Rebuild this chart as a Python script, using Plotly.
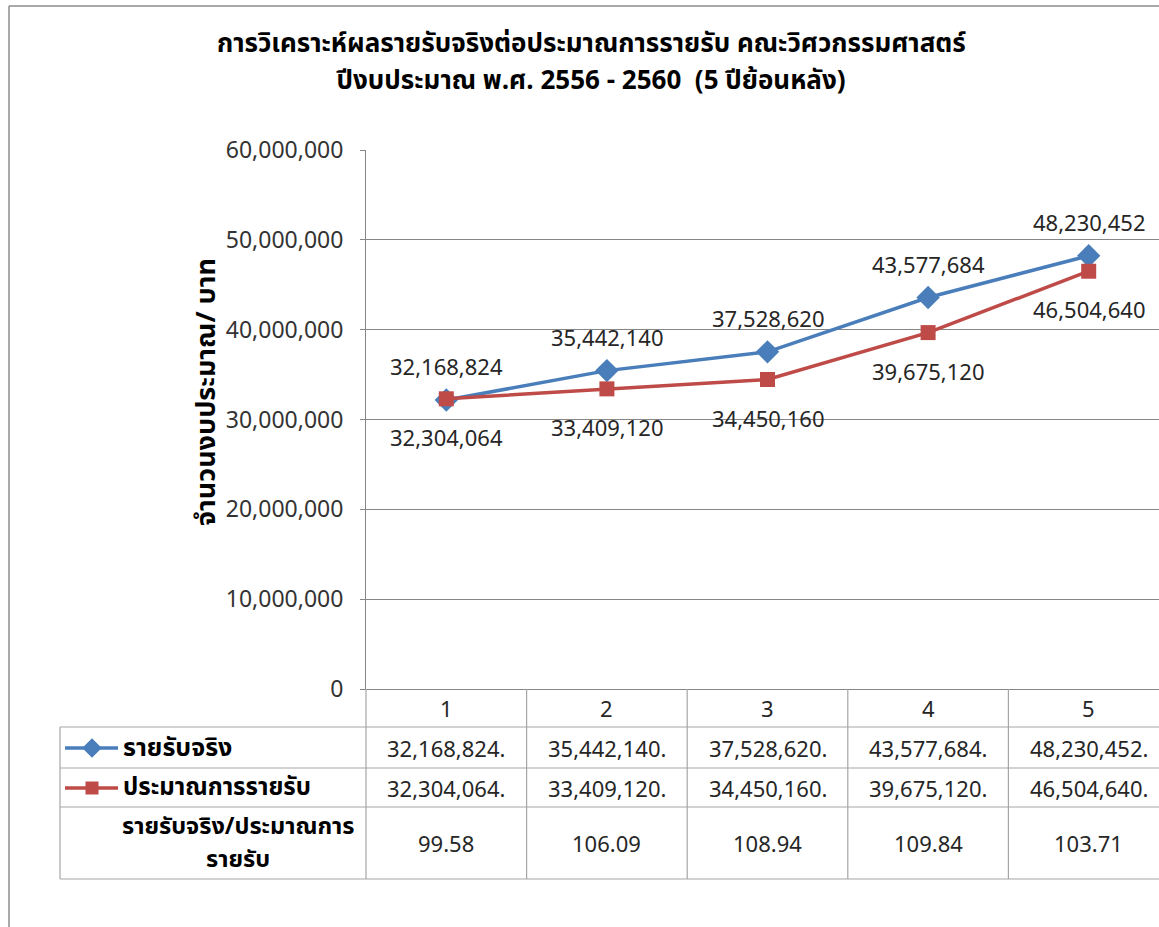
import plotly.graph_objects as go

W, H = 1159, 927

categories = [1, 2, 3, 4, 5]
actual = [32168824, 35442140, 37528620, 43577684, 48230452]
budget = [32304064, 33409120, 34450160, 39675120, 46504640]
ratio = [99.58, 106.09, 108.94, 109.84, 103.71]
series_names = ["รายรับจริง", "ประมาณการรายรับ"]
ratio_label = ["รายรับจริง/ประมาณการ", "รายรับ"]
title_lines = ["การวิเคราะห์ผลรายรับจริงต่อประมาณการรายรับ คณะวิศวกรรมศาสตร์",
               "ปีงบประมาณ พ.ศ. 2556 - 2560  (5 ปีย้อนหลัง)"]
ytitle = "จำนวนงบประมาณ/ บาท"
yticks = [0, 10000000, 20000000, 30000000, 40000000, 50000000, 60000000]

BLUE = "#4A7EBB"
RED = "#BE4B48"
GRID = "#868686"
TBL = "#A6A6A6"
THAI = "Tahoma, 'Noto Sans Thai', 'Noto Sans', sans-serif"
NUM = "'Noto Sans', 'Open Sans', sans-serif"
TXT = "#262626"

def px(x):
    return x / W

def py(y):
    return 1 - y / H

# plot area in pixels
PL, PT, PB = 366, 150, 689
x_per = 160.6
x_right = 0.5 + (W - PL) / x_per

fig = go.Figure()
fig.add_trace(go.Scatter(x=categories, y=actual, mode="lines+markers", name=series_names[0],
                         line=dict(color=BLUE, width=3.5),
                         marker=dict(symbol="diamond", size=18, color=BLUE),
                         xaxis="x", yaxis="y", showlegend=False))
fig.add_trace(go.Scatter(x=categories, y=budget, mode="lines+markers", name=series_names[1],
                         line=dict(color=RED, width=3.5),
                         marker=dict(symbol="square", size=15, color=RED),
                         xaxis="x", yaxis="y", showlegend=False))

# legend keys inside the data table (overlay pixel axis)
row_y = [748, 788]
for c, sym, sz, yy in [(BLUE, "diamond", 15, row_y[0]), (RED, "square", 13, row_y[1])]:
    fig.add_trace(go.Scatter(x=[65, 92, 118], y=[yy, yy, yy], mode="lines", line=dict(color=c, width=3.5),
                             xaxis="x2", yaxis="y2", showlegend=False, hoverinfo="skip"))
    fig.add_trace(go.Scatter(x=[92], y=[yy], mode="markers", marker=dict(symbol=sym, size=sz, color=c),
                             xaxis="x2", yaxis="y2", showlegend=False, hoverinfo="skip"))

ann = []
def add(**kw):
    kw.setdefault("showarrow", False)
    kw.setdefault("xanchor", "center")
    kw.setdefault("yanchor", "middle")
    ann.append(kw)

# data labels
for x, v in zip(categories, actual):
    add(x=x, y=v, xref="x", yref="y", text=f"{v:,}", yshift=34, font=dict(family=NUM, size=22, color=TXT))
for x, v in zip(categories, budget):
    add(x=x, y=v, xref="x", yref="y", text=f"{v:,}", yshift=-38, font=dict(family=NUM, size=22, color=TXT))

# title
for t, yy in zip(title_lines, [44, 81]):
    add(x=px(591), y=py(yy), xref="paper", yref="paper", text="<b>" + t + "</b>",
        font=dict(family=THAI, size=26, color="#000"))
# y title
add(x=px(207), y=py(392), xref="paper", yref="paper", text="<b>" + ytitle + "</b>", textangle=-90,
    font=dict(family=THAI, size=27, color="#000"))

# table contents
for x in categories:
    add(x=x, y=py(708), xref="x", yref="paper", text=str(x), font=dict(family=NUM, size=22, color=TXT))
for x, a, b, r in zip(categories, actual, budget, ratio):
    add(x=x, y=py(748), xref="x", yref="paper", text=f"{a:,}.", font=dict(family=NUM, size=22, color=TXT))
    add(x=x, y=py(788), xref="x", yref="paper", text=f"{b:,}.", font=dict(family=NUM, size=22, color=TXT))
    add(x=x, y=py(843), xref="x", yref="paper", text=f"{r:.2f}", font=dict(family=NUM, size=22, color=TXT))
add(x=px(121), y=py(748), xref="paper", yref="paper", text="<b>" + series_names[0] + "</b>",
    xanchor="left", font=dict(family=THAI, size=25, color="#000"))
add(x=px(121), y=py(788), xref="paper", yref="paper", text="<b>" + series_names[1] + "</b>",
    xanchor="left", font=dict(family=THAI, size=24, color="#000"))
for t, yy in zip(ratio_label, [827, 860]):
    add(x=px(238), y=py(yy), xref="paper", yref="paper", text="<b>" + t + "</b>",
        font=dict(family=THAI, size=23.5, color="#000"))

shapes = []
# outer chart border
shapes.append(dict(type="line", xref="paper", yref="paper", x0=px(9), x1=px(9), y0=py(6), y1=0,
                   line=dict(color="#8C8C8C", width=1.5)))
shapes.append(dict(type="line", xref="paper", yref="paper", x0=px(9), x1=1, y0=py(6), y1=py(6),
                   line=dict(color="#8C8C8C", width=1.5)))
# table horizontal lines
for yy in [727, 768, 807, 879]:
    shapes.append(dict(type="line", xref="paper", yref="paper", x0=px(60), x1=1, y0=py(yy), y1=py(yy),
                       line=dict(color=TBL, width=1.2)))
shapes.append(dict(type="line", xref="paper", yref="paper", x0=px(60), x1=px(60), y0=py(727), y1=py(879),
                   line=dict(color=TBL, width=1.2)))
shapes.append(dict(type="line", xref="paper", yref="paper", x0=px(PL), x1=px(PL), y0=py(PB), y1=py(879),
                   line=dict(color=TBL, width=1.2)))
for x in categories[:-1]:
    shapes.append(dict(type="line", xref="x", yref="paper", x0=x + 0.5, x1=x + 0.5, y0=py(PB), y1=py(879),
                       line=dict(color=TBL, width=1.2)))

fig.update_layout(
    template="none",
    width=W, height=H,
    margin=dict(l=0, r=0, t=0, b=0, pad=0, autoexpand=False),
    paper_bgcolor="white", plot_bgcolor="rgba(0,0,0,0)",
    showlegend=False,
    xaxis=dict(domain=[PL / W, 1], range=[0.5, x_right], showgrid=False, zeroline=False, automargin=False,
               showline=True, linecolor=GRID, linewidth=1, showticklabels=False, ticks="", fixedrange=True),
    yaxis=dict(domain=[py(PB), py(PT)], range=[0, 60000000], tickvals=yticks, automargin=False,
               ticktext=[f"{t:,}" for t in yticks], showgrid=True, gridcolor=GRID, gridwidth=1,
               zeroline=False, showline=True, linecolor=GRID, linewidth=1, ticks="outside", ticklen=5,
               tickcolor=GRID, tickfont=dict(family=NUM, size=23, color="#333333"), ticklabelstandoff=12,
               fixedrange=True),
    xaxis2=dict(domain=[0, 1], range=[0, W], visible=False, fixedrange=True, automargin=False),
    yaxis2=dict(domain=[0, 1], range=[H, 0], visible=False, fixedrange=True, anchor="x2", automargin=False),
    annotations=ann, shapes=shapes,
)

post = ("document.documentElement.style.overflow='hidden';"
        "document.body.style.margin='0px';document.body.style.overflow='hidden';"
        "var d=document.getElementById('{plot_id}');"
        "d.style.position='fixed';d.style.top='0px';d.style.left='0px';")
fig.write_html("out.html", config={"displayModeBar": False}, post_script=post)
